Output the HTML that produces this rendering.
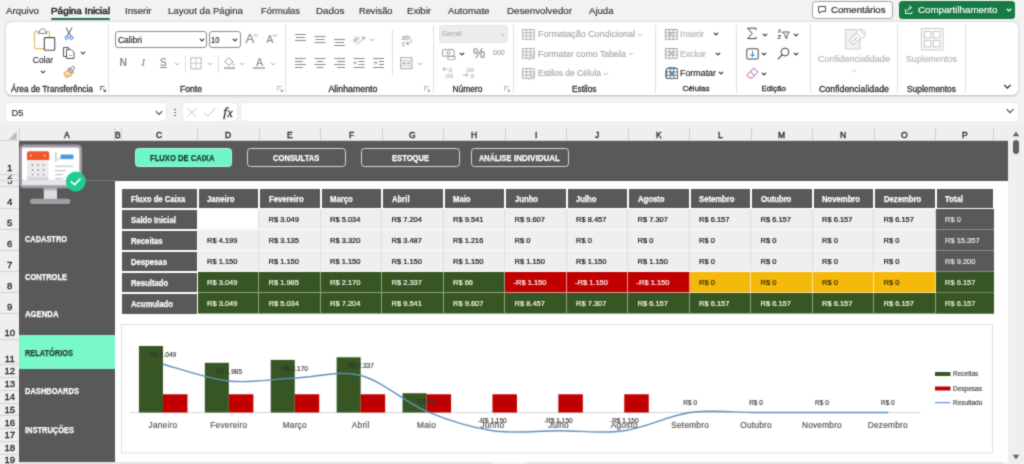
<!DOCTYPE html>
<html lang="pt-BR"><head><meta charset="utf-8"><title>Fluxo de Caixa</title>
<style>
html,body{margin:0;padding:0}
body{width:1024px;height:464px;overflow:hidden;position:relative;background:#f2f2f2;font-family:"Liberation Sans",sans-serif}
.b{position:absolute;box-sizing:border-box;display:block}
.t{position:absolute;white-space:pre;display:block;-webkit-text-stroke:0.16px currentColor}
svg text{font-family:"Liberation Sans",sans-serif}
#app{position:absolute;left:0;top:0;width:1024px;height:464px;overflow:hidden;background:#f2f2f2;filter:url(#soft)}
</style></head><body><svg width="0" height="0" style="position:absolute"><defs><filter id="soft" x="0" y="0" width="100%" height="100%" color-interpolation-filters="sRGB"><feConvolveMatrix order="3" kernelMatrix="1 2 1 2 12 2 1 2 1" edgeMode="duplicate" preserveAlpha="true"/></filter></defs></svg><div id="app">
<span class="t" style="left:6.00px;top:3.80px;font-size:9.20px;line-height:14px;color:#363636;transform:scaleX(1.0582);transform-origin:0 50%;">Arquivo</span>
<span class="t" style="left:124.50px;top:3.80px;font-size:9.01px;line-height:14px;color:#363636;transform:scaleX(1.0582);transform-origin:0 50%;">Inserir</span>
<span class="t" style="left:168.00px;top:3.80px;font-size:9.10px;line-height:14px;color:#363636;transform:scaleX(1.0582);transform-origin:0 50%;">Layout da Página</span>
<span class="t" style="left:260.50px;top:3.80px;font-size:8.84px;line-height:14px;color:#363636;transform:scaleX(1.0582);transform-origin:0 50%;">Fórmulas</span>
<span class="t" style="left:315.50px;top:3.80px;font-size:9.32px;line-height:14px;color:#363636;transform:scaleX(1.0582);transform-origin:0 50%;">Dados</span>
<span class="t" style="left:358.50px;top:3.80px;font-size:8.76px;line-height:14px;color:#363636;transform:scaleX(1.0582);transform-origin:0 50%;">Revisão</span>
<span class="t" style="left:407.00px;top:3.80px;font-size:9.07px;line-height:14px;color:#363636;transform:scaleX(1.0582);transform-origin:0 50%;">Exibir</span>
<span class="t" style="left:447.50px;top:3.80px;font-size:9.16px;line-height:14px;color:#363636;transform:scaleX(1.0582);transform-origin:0 50%;">Automate</span>
<span class="t" style="left:506.50px;top:3.80px;font-size:9.21px;line-height:14px;color:#363636;transform:scaleX(1.0582);transform-origin:0 50%;">Desenvolvedor</span>
<span class="t" style="left:588.50px;top:3.80px;font-size:9.05px;line-height:14px;color:#363636;transform:scaleX(1.0582);transform-origin:0 50%;">Ajuda</span>
<span class="t" style="left:50.50px;top:3.80px;font-size:9.30px;line-height:14px;color:#262626;transform:scaleX(1.0665);transform-origin:0 50%;-webkit-text-stroke:0.5px currentColor;">Página Inicial</span>
<div class="b " style="left:50.5px;top:17.5px;width:59.0px;height:2.0px;background:#217346;border-radius:1px;"></div>
<div class="b " style="left:812px;top:1px;width:80.5px;height:18px;background:#fff;border:1px solid #a3a3a3;border-radius:3.5px;"></div>
<svg class="b" style="left:817px;top:5.4px;" width="10" height="10" viewBox="0 0 10 10"><path d="M1.5 1.5 H8.5 V6.5 H4.2 L2.6 8.3 V6.5 H1.5 Z" fill="none" stroke="#333" stroke-width="0.9" stroke-linejoin="round"/></svg>
<span class="t" style="left:830.50px;top:3.20px;font-size:9.08px;line-height:14px;color:#222;transform:scaleX(1.0582);transform-origin:0 50%;">Comentários</span>
<div class="b " style="left:898.5px;top:1px;width:116.5px;height:18px;background:#177b43;border-radius:3.5px;"></div>
<svg class="b" style="left:904px;top:4.4px;" width="11" height="11" viewBox="0 0 11 11"><path d="M1.5 5 V9.5 H8 V7.5" fill="none" stroke="#fff" stroke-width="0.9"/><path d="M3.5 7 C3.5 4.8 5 3.6 7 3.6 M5.6 1.8 L7.4 3.6 L5.6 5.4" fill="none" stroke="#fff" stroke-width="0.9" stroke-linecap="round" stroke-linejoin="round"/></svg>
<span class="t" style="left:917.50px;top:3.20px;font-size:9.20px;line-height:14px;color:#fff;transform:scaleX(1.0582);transform-origin:0 50%;">Compartilhamento</span>
<svg class="b" style="left:1004.5px;top:6.4px;" width="8" height="8" viewBox="0 0 8 8"><path d="M2 3.0 L4 5.0 L6 3.0" fill="none" stroke="#fff" stroke-width="1.1" stroke-linecap="round" stroke-linejoin="round"/></svg>
<div class="b " style="left:6px;top:22px;width:1011.5px;height:73.3px;background:#fff;border-radius:6px;box-shadow:0 0.8px 2.5px rgba(0,0,0,.25);"></div>
<div class="b " style="left:108.0px;top:25px;width:1.0px;height:67.5px;background:#e1e1e1;"></div>
<div class="b " style="left:285.0px;top:25px;width:1.0px;height:67.5px;background:#e1e1e1;"></div>
<div class="b " style="left:432.5px;top:25px;width:1.0px;height:67.5px;background:#e1e1e1;"></div>
<div class="b " style="left:512.5px;top:25px;width:1.0px;height:67.5px;background:#e1e1e1;"></div>
<div class="b " style="left:655.0px;top:25px;width:1.0px;height:67.5px;background:#e1e1e1;"></div>
<div class="b " style="left:736.0px;top:25px;width:1.0px;height:67.5px;background:#e1e1e1;"></div>
<div class="b " style="left:809.5px;top:25px;width:1.0px;height:67.5px;background:#e1e1e1;"></div>
<div class="b " style="left:897.0px;top:25px;width:1.0px;height:67.5px;background:#e1e1e1;"></div>
<div class="b " style="left:965.0px;top:25px;width:1.0px;height:67.5px;background:#e1e1e1;"></div>
<div class="b " style="left:392px;top:30px;width:1px;height:46px;background:#e1e1e1;"></div>
<div class="b " style="left:184.5px;top:55px;width:1.0px;height:17.5px;background:#dcdcdc;"></div>
<div class="b " style="left:217.5px;top:55px;width:1.0px;height:17.5px;background:#dcdcdc;"></div>
<span class="t" style="left:11.00px;top:82.00px;font-size:8.33px;line-height:14px;color:#303030;-webkit-text-stroke:0.3px currentColor;">Área de Transferência</span>
<span class="t" style="left:180.00px;top:82.00px;font-size:8.60px;line-height:14px;color:#303030;-webkit-text-stroke:0.3px currentColor;">Fonte</span>
<span class="t" style="left:328.50px;top:82.00px;font-size:8.81px;line-height:14px;color:#303030;-webkit-text-stroke:0.3px currentColor;">Alinhamento</span>
<span class="t" style="left:452.50px;top:82.00px;font-size:8.43px;line-height:14px;color:#303030;-webkit-text-stroke:0.3px currentColor;">Número</span>
<span class="t" style="left:572.00px;top:82.00px;font-size:8.32px;line-height:14px;color:#303030;-webkit-text-stroke:0.3px currentColor;">Estilos</span>
<span class="t" style="left:682.50px;top:82.00px;font-size:8.10px;line-height:14px;color:#303030;-webkit-text-stroke:0.3px currentColor;">Células</span>
<span class="t" style="left:761.50px;top:82.00px;font-size:8.01px;line-height:14px;color:#303030;-webkit-text-stroke:0.3px currentColor;">Edição</span>
<span class="t" style="left:819.00px;top:82.00px;font-size:8.80px;line-height:14px;color:#303030;-webkit-text-stroke:0.3px currentColor;">Confidencialidade</span>
<span class="t" style="left:907.00px;top:82.00px;font-size:8.39px;line-height:14px;color:#303030;-webkit-text-stroke:0.3px currentColor;">Suplementos</span>
<svg class="b" style="left:99.5px;top:86px;" width="7" height="7" viewBox="0 0 7 7"><path d="M0.5 4.6 V0.5 H4.6" fill="none" stroke="#5a5a5a" stroke-width="0.9"/><path d="M2.4 2.4 L5.4 5.4" stroke="#5a5a5a" stroke-width="0.9"/><path d="M6 3 V6 H3 Z" fill="#5a5a5a"/></svg>
<svg class="b" style="left:277px;top:86px;" width="7" height="7" viewBox="0 0 7 7"><path d="M0.5 4.6 V0.5 H4.6" fill="none" stroke="#a9a9a9" stroke-width="0.9"/><path d="M2.4 2.4 L5.4 5.4" stroke="#a9a9a9" stroke-width="0.9"/><path d="M6 3 V6 H3 Z" fill="#a9a9a9"/></svg>
<svg class="b" style="left:423.5px;top:86px;" width="7" height="7" viewBox="0 0 7 7"><path d="M0.5 4.6 V0.5 H4.6" fill="none" stroke="#a9a9a9" stroke-width="0.9"/><path d="M2.4 2.4 L5.4 5.4" stroke="#a9a9a9" stroke-width="0.9"/><path d="M6 3 V6 H3 Z" fill="#a9a9a9"/></svg>
<svg class="b" style="left:503.5px;top:86px;" width="7" height="7" viewBox="0 0 7 7"><path d="M0.5 4.6 V0.5 H4.6" fill="none" stroke="#a9a9a9" stroke-width="0.9"/><path d="M2.4 2.4 L5.4 5.4" stroke="#a9a9a9" stroke-width="0.9"/><path d="M6 3 V6 H3 Z" fill="#a9a9a9"/></svg>
<svg class="b" style="left:1003px;top:83px;" width="9" height="7" viewBox="0 0 9 7"><path d="M1.2 2 L4.4 5 L7.6 2" fill="none" stroke="#3a3a3a" stroke-width="1.3"/></svg>
<svg class="b" style="left:33px;top:27px;" width="24" height="25" viewBox="0 0 24 25"><rect x="1.5" y="4.6" width="15" height="17" rx="1" fill="#fff" stroke="#dba33c" stroke-width="1.2" stroke-dasharray="1.3 0.45"/>
<path d="M5.2 6.4 L6.6 4.2 C6.8 1.2 12.4 1.2 12.6 4.2 L14 6.4 Z" fill="#fff" stroke="#6f6f6f" stroke-width="0.9" stroke-linejoin="round"/>
<rect x="11.3" y="10.6" width="10.4" height="12.6" rx="0.8" fill="#fff" stroke="#4f4f4f" stroke-width="1.1"/></svg>
<span class="t" style="left:32.75px;top:52.90px;font-size:8.49px;line-height:14px;color:#333;">Colar</span>
<svg class="b" style="left:38.5px;top:67.5px;" width="8" height="8" viewBox="0 0 8 8"><path d="M2.2 3.1 L4 4.9 L5.8 3.1" fill="none" stroke="#444" stroke-width="1.25" stroke-linecap="round" stroke-linejoin="round"/></svg>
<svg class="b" style="left:63px;top:27px;" width="12" height="14" viewBox="0 0 12 14"><path d="M3.2 1 L7.8 9 M8.8 1 L4.2 9" stroke="#555" stroke-width="1" fill="none" stroke-linecap="round"/>
<circle cx="3.6" cy="10.8" r="1.6" fill="none" stroke="#2f7fd1" stroke-width="1"/><circle cx="8.4" cy="10.8" r="1.6" fill="none" stroke="#2f7fd1" stroke-width="1"/></svg>
<svg class="b" style="left:62px;top:46px;" width="14" height="14" viewBox="0 0 14 14"><path d="M1.5 1.5 H6.5 V3.5 M1.5 1.5 V10.5 H4.5" fill="none" stroke="#555" stroke-width="1"/>
<path d="M4.5 3.5 H9 L12 6.5 V12.5 H4.5 Z" fill="#fff" stroke="#555" stroke-width="1" stroke-linejoin="round"/><path d="M7 9.5 H10" stroke="#888" stroke-width="0.8"/></svg>
<svg class="b" style="left:78.5px;top:49px;" width="8" height="8" viewBox="0 0 8 8"><path d="M2.2 3.1 L4 4.9 L5.8 3.1" fill="none" stroke="#444" stroke-width="1.25" stroke-linecap="round" stroke-linejoin="round"/></svg>
<svg class="b" style="left:63px;top:66px;" width="13" height="13" viewBox="0 0 13 13"><g transform="rotate(38 8.6 3.6)"><rect x="7.2" y="0.2" width="2.8" height="4.2" rx="0.6" fill="#fff" stroke="#555" stroke-width="0.8"/><rect x="5.6" y="4.2" width="6" height="1.8" fill="#fff" stroke="#555" stroke-width="0.8"/></g>
<path d="M4.6 4.6 L9 9 L3.2 11.6 L0.8 7.4 Z" fill="#fbe3c2" stroke="#e8922d" stroke-width="1" stroke-linejoin="round"/><path d="M2.4 8.6 L5.8 10.2" stroke="#e8922d" stroke-width="0.8"/></svg>
<div class="b " style="left:115px;top:31px;width:91.5px;height:17px;background:#fff;border:1px solid #8c8c8c;border-radius:3px;"></div>
<span class="t" style="left:118.00px;top:32.50px;font-size:8.47px;line-height:14px;color:#222;">Calibri</span>
<svg class="b" style="left:197.5px;top:36px;" width="8" height="8" viewBox="0 0 8 8"><path d="M2.2 3.1 L4 4.9 L5.8 3.1" fill="none" stroke="#333" stroke-width="1.25" stroke-linecap="round" stroke-linejoin="round"/></svg>
<div class="b " style="left:208.5px;top:31px;width:32.0px;height:17px;background:#fff;border:1px solid #8c8c8c;border-radius:3px;"></div>
<span class="t" style="left:211.30px;top:32.60px;font-size:9.20px;line-height:14px;color:#222;transform:scaleX(0.8208);transform-origin:0 50%;">10</span>
<svg class="b" style="left:231px;top:36px;" width="8" height="8" viewBox="0 0 8 8"><path d="M2.2 3.1 L4 4.9 L5.8 3.1" fill="none" stroke="#333" stroke-width="1.25" stroke-linecap="round" stroke-linejoin="round"/></svg>
<span class="t" style="left:245.60px;top:31.50px;font-size:13.20px;line-height:14px;color:#8a8a8a;">A</span>
<svg class="b" style="left:252.6px;top:33px;" width="6" height="5" viewBox="0 0 6 5"><path d="M0.8 3.6 L2.8 1.4 L4.8 3.6" fill="none" stroke="#8a8a8a" stroke-width="0.8"/></svg>
<span class="t" style="left:266.40px;top:32.60px;font-size:10.20px;line-height:14px;color:#8a8a8a;">A</span>
<svg class="b" style="left:272px;top:33px;" width="6" height="5" viewBox="0 0 6 5"><path d="M0.8 1.4 L2.8 3.6 L4.8 1.4" fill="none" stroke="#8a8a8a" stroke-width="0.8"/></svg>
<span class="t" style="left:119.60px;top:55.90px;font-size:10.40px;line-height:14px;color:#8a8a8a;font-weight:700;-webkit-text-stroke:0;">N</span>
<span class="t" style="left:141.50px;top:56.00px;font-size:10.50px;line-height:14px;color:#8a8a8a;font-style:italic;font-family:'Liberation Serif',serif;">I</span>
<span class="t" style="left:160.00px;top:56.00px;font-size:10.00px;line-height:14px;color:#8a8a8a;text-decoration:underline;">S</span>
<svg class="b" style="left:172.5px;top:59.5px;" width="8" height="8" viewBox="0 0 8 8"><path d="M2.2 3.1 L4 4.9 L5.8 3.1" fill="none" stroke="#aaa" stroke-width="1.0" stroke-linecap="round" stroke-linejoin="round"/></svg>
<svg class="b" style="left:189.5px;top:57px;" width="12" height="13" viewBox="0 0 12 13"><rect x="0.8" y="0.8" width="10.4" height="11" fill="none" stroke="#b5b5b5" stroke-width="1"/><path d="M6 0.8 V11.8 M0.8 6.3 H11.2" stroke="#c8c8c8" stroke-width="1"/></svg>
<svg class="b" style="left:205.5px;top:59.5px;" width="8" height="8" viewBox="0 0 8 8"><path d="M2.2 3.1 L4 4.9 L5.8 3.1" fill="none" stroke="#aaa" stroke-width="1.0" stroke-linecap="round" stroke-linejoin="round"/></svg>
<svg class="b" style="left:223px;top:56px;" width="13" height="14" viewBox="0 0 13 14"><path d="M5.5 1.5 L10 6 L5.8 9.6 L2 5.6 Z" fill="none" stroke="#8a8a8a" stroke-width="0.9" stroke-linejoin="round"/><path d="M10.6 7.2 C11.4 8.4 11.6 9.2 10.8 9.6 C10 9.2 10 8.4 10.6 7.2 Z" fill="#8a8a8a"/>
<rect x="1" y="11" width="11" height="2.2" fill="#b9b9b9"/></svg>
<svg class="b" style="left:238px;top:59.5px;" width="8" height="8" viewBox="0 0 8 8"><path d="M2.2 3.1 L4 4.9 L5.8 3.1" fill="none" stroke="#aaa" stroke-width="1.0" stroke-linecap="round" stroke-linejoin="round"/></svg>
<span class="t" style="left:255.90px;top:54.90px;font-size:10.80px;line-height:14px;color:#8f8f8f;">A</span>
<div class="b " style="left:253.3px;top:66.8px;width:12.0px;height:2.700000000000003px;background:#b9b9b9;"></div>
<svg class="b" style="left:269px;top:59.5px;" width="8" height="8" viewBox="0 0 8 8"><path d="M2.2 3.1 L4 4.9 L5.8 3.1" fill="none" stroke="#aaa" stroke-width="1.0" stroke-linecap="round" stroke-linejoin="round"/></svg>
<svg class="b" style="left:0px;top:0px;pointer-events:none;" width="520" height="100" viewBox="0 0 520 100"><rect x="295.00" y="34.00" width="11" height="1" fill="#8c8c8c"/><rect x="296.00" y="37.00" width="9" height="1" fill="#8c8c8c"/><rect x="295.00" y="40.00" width="11" height="1" fill="#8c8c8c"/><rect x="314.50" y="36.00" width="11" height="1" fill="#8c8c8c"/><rect x="315.50" y="39.00" width="9" height="1" fill="#8c8c8c"/><rect x="314.50" y="42.00" width="11" height="1" fill="#8c8c8c"/><rect x="334.00" y="39.00" width="11" height="1" fill="#8c8c8c"/><rect x="335.00" y="42.00" width="9" height="1" fill="#8c8c8c"/><rect x="334.00" y="45.00" width="11" height="1" fill="#8c8c8c"/><rect x="295.00" y="58.00" width="11" height="1" fill="#8c8c8c"/><rect x="295.00" y="61.00" width="8" height="1" fill="#8c8c8c"/><rect x="295.00" y="64.00" width="11" height="1" fill="#8c8c8c"/><rect x="295.00" y="67.00" width="8" height="1" fill="#8c8c8c"/><rect x="314.50" y="58.00" width="11" height="1" fill="#8c8c8c"/><rect x="316.50" y="61.00" width="7" height="1" fill="#8c8c8c"/><rect x="314.50" y="64.00" width="11" height="1" fill="#8c8c8c"/><rect x="316.50" y="67.00" width="7" height="1" fill="#8c8c8c"/><rect x="334.00" y="58.00" width="11" height="1" fill="#8c8c8c"/><rect x="337.00" y="61.00" width="8" height="1" fill="#8c8c8c"/><rect x="334.00" y="64.00" width="11" height="1" fill="#8c8c8c"/><rect x="337.00" y="67.00" width="8" height="1" fill="#8c8c8c"/><rect x="358.50" y="58.00" width="6" height="1" fill="#8c8c8c"/><rect x="358.50" y="61.00" width="6" height="1" fill="#8c8c8c"/><rect x="358.50" y="64.00" width="6" height="1" fill="#8c8c8c"/><rect x="358.50" y="67.00" width="6" height="1" fill="#8c8c8c"/><rect x="353.50" y="58.00" width="11" height="1" fill="#8c8c8c"/><rect x="353.50" y="67.00" width="11" height="1" fill="#8c8c8c"/><path d="M357 62.8 L354 62.8 M355.4 61.2 L353.8 62.8 L355.4 64.4" fill="none" stroke="#8c8c8c" stroke-width="0.8"/><rect x="379.00" y="61.00" width="5" height="1" fill="#8c8c8c"/><rect x="379.00" y="64.00" width="5" height="1" fill="#8c8c8c"/><rect x="373.00" y="58.00" width="11" height="1" fill="#8c8c8c"/><rect x="373.00" y="67.00" width="11" height="1" fill="#8c8c8c"/><path d="M373.4 62.8 L377 62.8 M375.4 61.2 L377 62.8 L375.4 64.4" fill="none" stroke="#8c8c8c" stroke-width="0.8"/></svg>
<svg class="b" style="left:353px;top:33px;" width="13" height="13" viewBox="0 0 13 13"><text x="0.5" y="8" font-size="6.5" fill="#8c8c8c" transform="rotate(-40 4 8)">ab</text><path d="M4 11.5 L11 4.5 M8.5 4.2 H11.3 V7" fill="none" stroke="#8c8c8c" stroke-width="0.8"/></svg>
<svg class="b" style="left:367.5px;top:36px;" width="8" height="8" viewBox="0 0 8 8"><path d="M2.2 3.1 L4 4.9 L5.8 3.1" fill="none" stroke="#aaa" stroke-width="1.0" stroke-linecap="round" stroke-linejoin="round"/></svg>
<svg class="b" style="left:401px;top:32.5px;" width="14" height="14" viewBox="0 0 14 14"><text x="0.6" y="6.8" font-size="8" fill="#8c8c8c">ab</text><text x="0.8" y="12.6" font-size="7" fill="#8c8c8c">c</text><path d="M5.4 10.4 C9 10.6 10.6 9.6 11 6.6 M7.6 8.4 L5.2 10.4 L7.8 12.2" fill="none" stroke="#8c8c8c" stroke-width="0.8"/></svg>
<svg class="b" style="left:400px;top:57px;" width="13" height="13" viewBox="0 0 13 13"><rect x="0.7" y="0.7" width="11.2" height="11" fill="none" stroke="#9a9a9a" stroke-width="0.9"/><path d="M0.7 3.6 H11.9 M0.7 8.8 H11.9" stroke="#b5b5b5" stroke-width="0.8"/><path d="M2.6 6.2 H10 M4 4.9 L2.6 6.2 L4 7.5 M8.6 4.9 L10 6.2 L8.6 7.5" fill="none" stroke="#8c8c8c" stroke-width="0.8"/></svg>
<svg class="b" style="left:416px;top:59.5px;" width="8" height="8" viewBox="0 0 8 8"><path d="M2.2 3.1 L4 4.9 L5.8 3.1" fill="none" stroke="#aaa" stroke-width="1.0" stroke-linecap="round" stroke-linejoin="round"/></svg>
<div class="b " style="left:439px;top:25px;width:68.75px;height:17.5px;background:#ececec;border-radius:4px;border:1px dotted #e0e0e0;"></div>
<span class="t" style="left:441.80px;top:26.90px;font-size:8.10px;line-height:14px;color:#adadad;">Geral</span>
<svg class="b" style="left:498.5px;top:30.5px;" width="8" height="8" viewBox="0 0 8 8"><path d="M2.4 3.2 L4 4.8 L5.6 3.2" fill="none" stroke="#b5b5b5" stroke-width="1.0" stroke-linecap="round" stroke-linejoin="round"/></svg>
<svg class="b" style="left:441.5px;top:48.5px;" width="14" height="11" viewBox="0 0 14 11"><rect x="0.6" y="0.6" width="11.5" height="6.5" rx="0.8" fill="none" stroke="#8c8c8c" stroke-width="0.9"/><circle cx="6.3" cy="3.8" r="1.6" fill="none" stroke="#8c8c8c" stroke-width="0.8"/><path d="M6.5 8.8 H12.5 M6.5 10.4 H12.5" stroke="#8c8c8c" stroke-width="0.8"/><rect x="6" y="7.6" width="7" height="3.2" fill="#fff" stroke="#8c8c8c" stroke-width="0.7"/></svg>
<svg class="b" style="left:458px;top:49.5px;" width="8" height="8" viewBox="0 0 8 8"><path d="M2.2 3.1 L4 4.9 L5.8 3.1" fill="none" stroke="#333" stroke-width="1.2" stroke-linecap="round" stroke-linejoin="round"/></svg>
<span class="t" style="left:472.60px;top:46.30px;font-size:14.30px;line-height:14px;color:#8c8c8c;transform:scaleX(0.9594);transform-origin:0 50%;">%</span>
<span class="t" style="left:492.50px;top:45.90px;font-size:7.40px;line-height:14px;color:#a5a5a5;transform:scaleX(0.9557);transform-origin:0 50%;">000</span>
<svg class="b" style="left:442px;top:66px;" width="13" height="13" viewBox="0 0 13 13"><text x="5.4" y="5.6" font-size="6.2" fill="#9a9a9a">,0</text><text x="2.6" y="11.6" font-size="6.2" fill="#9a9a9a">,00</text><path d="M5.4 3 H0.8 M2.6 1.2 L0.8 3 L2.6 4.8" fill="none" stroke="#9a9a9a" stroke-width="0.8"/></svg>
<svg class="b" style="left:461.5px;top:66px;" width="13" height="13" viewBox="0 0 13 13"><text x="3.4" y="5.6" font-size="6.2" fill="#9a9a9a">,00</text><text x="7" y="11.6" font-size="6.2" fill="#9a9a9a">,0</text><path d="M0.8 9 H6 M4.2 7.2 L6 9 L4.2 10.8" fill="none" stroke="#9a9a9a" stroke-width="0.8"/></svg>
<svg class="b" style="left:522px;top:28.5px;" width="13" height="11" viewBox="0 0 13 11"><rect x="0.6" y="0.6" width="11.6" height="9.6" fill="none" stroke="#a6a6a6" stroke-width="0.9"/><path d="M0.6 3.8 H12.2 M0.6 7 H12.2 M4.4 0.6 V10.2 M8.3 0.6 V10.2" stroke="#a6a6a6" stroke-width="0.8"/></svg>
<svg class="b" style="left:522px;top:48px;" width="13" height="11" viewBox="0 0 13 11"><rect x="0.6" y="0.6" width="11.6" height="9.6" fill="none" stroke="#a6a6a6" stroke-width="0.9"/><path d="M0.6 3.8 H12.2 M0.6 7 H12.2 M4.4 0.6 V10.2 M8.3 0.6 V10.2" stroke="#a6a6a6" stroke-width="0.8"/></svg>
<svg class="b" style="left:522px;top:67.5px;" width="13" height="11" viewBox="0 0 13 11"><rect x="0.6" y="0.6" width="11.6" height="9.6" fill="none" stroke="#a6a6a6" stroke-width="0.9"/><path d="M0.6 3.8 H12.2 M0.6 7 H12.2 M4.4 0.6 V10.2 M8.3 0.6 V10.2" stroke="#a6a6a6" stroke-width="0.8"/></svg>
<svg class="b" style="left:527px;top:52px;" width="9" height="8" viewBox="0 0 9 8"><path d="M1 7 L7 1 L8.2 2.2 L2.4 7.6 Z" fill="#fff" stroke="#a6a6a6" stroke-width="0.8"/></svg>
<svg class="b" style="left:527px;top:71.5px;" width="9" height="8" viewBox="0 0 9 8"><path d="M1 7 L7 1 L8.2 2.2 L2.4 7.6 Z" fill="#fff" stroke="#a6a6a6" stroke-width="0.8"/></svg>
<span class="t" style="left:538.00px;top:27.00px;font-size:8.95px;line-height:14px;color:#a6a6a6;">Formatação Condicional</span>
<svg class="b" style="left:636px;top:30.5px;" width="8" height="8" viewBox="0 0 8 8"><path d="M2.4 3.2 L4 4.8 L5.6 3.2" fill="none" stroke="#b5b5b5" stroke-width="1.0" stroke-linecap="round" stroke-linejoin="round"/></svg>
<span class="t" style="left:538.00px;top:46.50px;font-size:8.81px;line-height:14px;color:#a6a6a6;">Formatar como Tabela</span>
<svg class="b" style="left:627px;top:50px;" width="8" height="8" viewBox="0 0 8 8"><path d="M2.4 3.2 L4 4.8 L5.6 3.2" fill="none" stroke="#b5b5b5" stroke-width="1.0" stroke-linecap="round" stroke-linejoin="round"/></svg>
<span class="t" style="left:538.00px;top:66.00px;font-size:8.46px;line-height:14px;color:#a6a6a6;">Estilos de Célula</span>
<svg class="b" style="left:602px;top:69.5px;" width="8" height="8" viewBox="0 0 8 8"><path d="M2.4 3.2 L4 4.8 L5.6 3.2" fill="none" stroke="#b5b5b5" stroke-width="1.0" stroke-linecap="round" stroke-linejoin="round"/></svg>
<svg class="b" style="left:665px;top:28.5px;" width="13" height="11" viewBox="0 0 13 11"><rect x="0.6" y="0.6" width="11.6" height="9.6" fill="none" stroke="#9a9a9a" stroke-width="0.9"/><path d="M0.6 3.8 H12.2 M0.6 7 H12.2 M4.4 0.6 V10.2 M8.3 0.6 V10.2" stroke="#9a9a9a" stroke-width="0.8"/></svg>
<svg class="b" style="left:665px;top:48px;" width="13" height="11" viewBox="0 0 13 11"><rect x="0.6" y="0.6" width="11.6" height="9.6" fill="none" stroke="#9a9a9a" stroke-width="0.9"/><path d="M0.6 3.8 H12.2 M0.6 7 H12.2 M4.4 0.6 V10.2 M8.3 0.6 V10.2" stroke="#9a9a9a" stroke-width="0.8"/></svg>
<svg class="b" style="left:664.5px;top:66.5px;" width="14" height="13" viewBox="0 0 14 13"><rect x="1.6" y="1.6" width="10.8" height="10" fill="none" stroke="#555" stroke-width="0.9"/><path d="M1.6 4.9 H12.4 M1.6 8.3 H12.4 M5.2 1.6 V11.6 M8.8 1.6 V11.6" stroke="#555" stroke-width="0.8"/><rect x="5.2" y="4.9" width="3.6" height="3.4" fill="#3a96dd"/><path d="M3 0.6 H11 M0.6 3 V10.5" stroke="#3a96dd" stroke-width="1"/></svg>
<svg class="b" style="left:668px;top:31px;" width="8" height="6" viewBox="0 0 8 6"><path d="M4.5 2.8 H1 M2.4 1.2 L1 2.8 L2.4 4.4" fill="none" stroke="#9a9a9a" stroke-width="0.8"/></svg>
<svg class="b" style="left:668px;top:50px;" width="8" height="7" viewBox="0 0 8 7"><path d="M1.5 1.5 L5.5 5.5 M5.5 1.5 L1.5 5.5" fill="none" stroke="#9a9a9a" stroke-width="0.9"/></svg>
<span class="t" style="left:680.00px;top:27.00px;font-size:8.64px;line-height:14px;color:#b2b2b2;">Inserir</span>
<svg class="b" style="left:711.5px;top:30px;" width="8" height="8" viewBox="0 0 8 8"><path d="M2.2 3.1 L4 4.9 L5.8 3.1" fill="none" stroke="#333" stroke-width="1.2" stroke-linecap="round" stroke-linejoin="round"/></svg>
<span class="t" style="left:680.00px;top:46.50px;font-size:8.66px;line-height:14px;color:#b2b2b2;">Excluir</span>
<svg class="b" style="left:713.75px;top:49.5px;" width="8" height="8" viewBox="0 0 8 8"><path d="M2.2 3.1 L4 4.9 L5.8 3.1" fill="none" stroke="#333" stroke-width="1.2" stroke-linecap="round" stroke-linejoin="round"/></svg>
<span class="t" style="left:680.00px;top:66.00px;font-size:8.88px;line-height:14px;color:#222;">Formatar</span>
<svg class="b" style="left:716.9px;top:69px;" width="8" height="8" viewBox="0 0 8 8"><path d="M2.2 3.1 L4 4.9 L5.8 3.1" fill="none" stroke="#333" stroke-width="1.2" stroke-linecap="round" stroke-linejoin="round"/></svg>
<svg class="b" style="left:746px;top:27px;" width="12" height="13" viewBox="0 0 12 13"><path d="M10 3 V1.2 H1.6 L6.2 6.4 L1.6 11.6 H10 V9.8" fill="none" stroke="#444" stroke-width="1" stroke-linejoin="round"/></svg>
<svg class="b" style="left:761px;top:30.5px;" width="8" height="8" viewBox="0 0 8 8"><path d="M2.2 3.1 L4 4.9 L5.8 3.1" fill="none" stroke="#333" stroke-width="1.2" stroke-linecap="round" stroke-linejoin="round"/></svg>
<svg class="b" style="left:776px;top:27px;" width="15" height="14" viewBox="0 0 15 14"><text x="1.5" y="5.6" font-size="6" font-weight="700" fill="#2f7fd1">A</text><text x="1.5" y="12.3" font-size="6" font-weight="700" fill="#444">Z</text><path d="M6.8 5 H13.4 L11 8.2 V11.6 L9.2 10.4 V8.2 Z" fill="none" stroke="#444" stroke-width="0.9" stroke-linejoin="round"/></svg>
<svg class="b" style="left:792px;top:30.5px;" width="8" height="8" viewBox="0 0 8 8"><path d="M2.2 3.1 L4 4.9 L5.8 3.1" fill="none" stroke="#333" stroke-width="1.2" stroke-linecap="round" stroke-linejoin="round"/></svg>
<svg class="b" style="left:745.5px;top:48px;" width="13" height="12" viewBox="0 0 13 12"><rect x="0.8" y="0.8" width="11.4" height="10.2" rx="0.8" fill="none" stroke="#444" stroke-width="1"/><path d="M6.5 2.8 V8.4 M4.2 6.2 L6.5 8.6 L8.8 6.2" fill="none" stroke="#2f7fd1" stroke-width="1"/></svg>
<svg class="b" style="left:760px;top:50px;" width="8" height="8" viewBox="0 0 8 8"><path d="M2.2 3.1 L4 4.9 L5.8 3.1" fill="none" stroke="#333" stroke-width="1.2" stroke-linecap="round" stroke-linejoin="round"/></svg>
<svg class="b" style="left:777px;top:47px;" width="14" height="13" viewBox="0 0 14 13"><circle cx="8" cy="5" r="3.9" fill="none" stroke="#444" stroke-width="1"/><path d="M5.2 7.8 L1.2 11.8" stroke="#444" stroke-width="1.1" stroke-linecap="round"/></svg>
<svg class="b" style="left:792px;top:50px;" width="8" height="8" viewBox="0 0 8 8"><path d="M2.2 3.1 L4 4.9 L5.8 3.1" fill="none" stroke="#333" stroke-width="1.2" stroke-linecap="round" stroke-linejoin="round"/></svg>
<svg class="b" style="left:745.5px;top:67px;" width="13" height="12" viewBox="0 0 13 12"><path d="M7.6 1 L12 5 L6.2 11 L3.6 11 L1 8.2 Z" fill="#fff" stroke="#c2419a" stroke-width="0.9" stroke-linejoin="round"/><path d="M4.4 4.6 L8.6 8.6" stroke="#8b3fae" stroke-width="0.9"/></svg>
<svg class="b" style="left:760px;top:69.5px;" width="8" height="8" viewBox="0 0 8 8"><path d="M2.2 3.1 L4 4.9 L5.8 3.1" fill="none" stroke="#333" stroke-width="1.2" stroke-linecap="round" stroke-linejoin="round"/></svg>
<svg class="b" style="left:844px;top:26px;" width="24" height="25" viewBox="0 0 24 25"><path d="M1.5 3.5 H13 L16 6.5 V23 H1.5 Z" fill="#f1f1f1" stroke="#cfcfcf" stroke-width="1"/><g transform="rotate(-42 13 11)"><rect x="5" y="8" width="17" height="6.4" rx="1.4" fill="#fff" stroke="#c6c6c6" stroke-width="1"/><rect x="15.5" y="6.6" width="4.4" height="9.2" rx="1" fill="#fff" stroke="#c6c6c6" stroke-width="0.9"/><path d="M7 11.2 H13" stroke="#c6c6c6" stroke-width="1.4"/></g></svg>
<span class="t" style="left:818.00px;top:51.90px;font-size:9.06px;line-height:14px;color:#b4b4b4;">Confidencialidade</span>
<svg class="b" style="left:849.5px;top:67px;" width="8" height="8" viewBox="0 0 8 8"><path d="M2.2 3.1 L4 4.9 L5.8 3.1" fill="none" stroke="#c4c4c4" stroke-width="1.0" stroke-linecap="round" stroke-linejoin="round"/></svg>
<svg class="b" style="left:920.5px;top:27.5px;" width="23" height="23" viewBox="0 0 23 23"><rect x="0.5" y="0.5" width="21.5" height="21.5" fill="#fafafa" stroke="#c9c9c9" stroke-width="1"/><rect x="3.4" y="3.4" width="6.6" height="6.6" fill="#fff" stroke="#c0c0c0" stroke-width="0.9"/><rect x="12.4" y="3.4" width="6.6" height="6.6" fill="#fff" stroke="#c0c0c0" stroke-width="0.9"/><rect x="3.4" y="12.4" width="6.6" height="6.6" fill="#fff" stroke="#c0c0c0" stroke-width="0.9"/><rect x="12.4" y="12.4" width="6.6" height="6.6" fill="#fff" stroke="#c0c0c0" stroke-width="0.9"/></svg>
<span class="t" style="left:906.00px;top:51.90px;font-size:8.74px;line-height:14px;color:#b4b4b4;">Suplementos</span>
<div class="b " style="left:6px;top:103.3px;width:160px;height:17.700000000000003px;background:#fff;border-radius:3.5px;box-shadow:0 0 0 0.5px #e6e6e6;"></div>
<span class="t" style="left:11.50px;top:105.60px;font-size:9.30px;line-height:14px;color:#333;">D5</span>
<svg class="b" style="left:154px;top:109.2px;" width="10" height="8" viewBox="0 0 10 8"><path d="M1.8 2.2 L5 5.4 L8.2 2.2" fill="none" stroke="#4a4a4a" stroke-width="1.1"/></svg>
<div class="b " style="left:174.2px;top:108.6px;width:1.6000000000000227px;height:1.5999999999999943px;background:#555;border-radius:1px;"></div>
<div class="b " style="left:174.2px;top:111.6px;width:1.6000000000000227px;height:1.5999999999999943px;background:#555;border-radius:1px;"></div>
<div class="b " style="left:174.2px;top:114.6px;width:1.6000000000000227px;height:1.5999999999999943px;background:#555;border-radius:1px;"></div>
<div class="b " style="left:183px;top:103.3px;width:54px;height:17.700000000000003px;background:#fff;border-radius:3.5px;box-shadow:0 0 0 0.5px #e6e6e6;"></div>
<svg class="b" style="left:186px;top:107px;" width="12" height="11" viewBox="0 0 12 11"><path d="M1.4 1.2 L10.4 9.6 M10.4 1.2 L1.4 9.6" stroke="#c6c6c6" stroke-width="1" fill="none"/></svg>
<svg class="b" style="left:203px;top:107px;" width="14" height="11" viewBox="0 0 14 11"><path d="M1 6 L4.6 9.4 L12.4 1.2" stroke="#c6c6c6" stroke-width="1" fill="none"/></svg>
<span class="t" style="left:0;top:0">
<span class="t" style="left:223.20px;top:105.00px;font-size:13.50px;line-height:14px;color:#3a3a3a;font-style:italic;font-family:'Liberation Serif',serif;-webkit-text-stroke:0.35px currentColor;">f</span>
<span class="t" style="left:227.60px;top:106.40px;font-size:11.50px;line-height:14px;color:#3a3a3a;font-style:italic;font-family:'Liberation Serif',serif;-webkit-text-stroke:0.35px currentColor;">x</span>
</span>
<div class="b " style="left:241px;top:103.3px;width:776.5px;height:17.700000000000003px;background:#fff;border-radius:3.5px;box-shadow:0 0 0 0.5px #e6e6e6;"></div>
<svg class="b" style="left:1005px;top:107.2px;" width="10" height="8" viewBox="0 0 10 8"><path d="M1.6 2.2 L5 5.6 L8.4 2.2" fill="none" stroke="#4a4a4a" stroke-width="1.15"/></svg>
<div class="b " style="left:0px;top:124px;width:1024px;height:17px;background:#efefef;"></div>
<div class="b " style="left:19px;top:141px;width:988.5px;height:321px;background:#fff;"></div>
<div class="b " style="left:0px;top:140px;width:1007.5px;height:1px;background:#d4d4d4;"></div>
<div class="b " style="left:18.5px;top:128px;width:1.0px;height:13px;background:#cfcfcf;"></div>
<span class="t" style="left:64.15px;top:127.60px;font-size:9.70px;line-height:14px;color:#222;transform:scaleX(0.8800);transform-origin:0 50%;-webkit-text-stroke:0.35px currentColor;">A</span>
<div class="b " style="left:114.0px;top:128px;width:1.0px;height:13px;background:#cfcfcf;"></div>
<span class="t" style="left:114.90px;top:127.60px;font-size:9.70px;line-height:14px;color:#222;transform:scaleX(0.8800);transform-origin:0 50%;-webkit-text-stroke:0.35px currentColor;">B</span>
<div class="b " style="left:120.5px;top:128px;width:1.0px;height:13px;background:#cfcfcf;"></div>
<span class="t" style="left:156.17px;top:127.60px;font-size:9.70px;line-height:14px;color:#222;transform:scaleX(0.8800);transform-origin:0 50%;-webkit-text-stroke:0.35px currentColor;">C</span>
<div class="b " style="left:197.0px;top:128px;width:1.0px;height:13px;background:#cfcfcf;"></div>
<span class="t" style="left:225.17px;top:127.60px;font-size:9.70px;line-height:14px;color:#222;transform:scaleX(0.8800);transform-origin:0 50%;-webkit-text-stroke:0.35px currentColor;">D</span>
<div class="b " style="left:258.5px;top:128px;width:1.0px;height:13px;background:#cfcfcf;"></div>
<span class="t" style="left:286.90px;top:127.60px;font-size:9.70px;line-height:14px;color:#222;transform:scaleX(0.8800);transform-origin:0 50%;-webkit-text-stroke:0.35px currentColor;">E</span>
<div class="b " style="left:320.0px;top:128px;width:1.0px;height:13px;background:#cfcfcf;"></div>
<span class="t" style="left:348.64px;top:127.60px;font-size:9.70px;line-height:14px;color:#222;transform:scaleX(0.8800);transform-origin:0 50%;-webkit-text-stroke:0.35px currentColor;">F</span>
<div class="b " style="left:381.5px;top:128px;width:1.0px;height:13px;background:#cfcfcf;"></div>
<span class="t" style="left:409.43px;top:127.60px;font-size:9.70px;line-height:14px;color:#222;transform:scaleX(0.8800);transform-origin:0 50%;-webkit-text-stroke:0.35px currentColor;">G</span>
<div class="b " style="left:443.0px;top:128px;width:1.0px;height:13px;background:#cfcfcf;"></div>
<span class="t" style="left:471.17px;top:127.60px;font-size:9.70px;line-height:14px;color:#222;transform:scaleX(0.8800);transform-origin:0 50%;-webkit-text-stroke:0.35px currentColor;">H</span>
<div class="b " style="left:504.5px;top:128px;width:1.0px;height:13px;background:#cfcfcf;"></div>
<span class="t" style="left:534.56px;top:127.60px;font-size:9.70px;line-height:14px;color:#222;transform:scaleX(0.8800);transform-origin:0 50%;-webkit-text-stroke:0.35px currentColor;">I</span>
<div class="b " style="left:566.0px;top:128px;width:1.0px;height:13px;background:#cfcfcf;"></div>
<span class="t" style="left:595.12px;top:127.60px;font-size:9.70px;line-height:14px;color:#222;transform:scaleX(0.8800);transform-origin:0 50%;-webkit-text-stroke:0.35px currentColor;">J</span>
<div class="b " style="left:627.5px;top:128px;width:1.0px;height:13px;background:#cfcfcf;"></div>
<span class="t" style="left:655.90px;top:127.60px;font-size:9.70px;line-height:14px;color:#222;transform:scaleX(0.8800);transform-origin:0 50%;-webkit-text-stroke:0.35px currentColor;">K</span>
<div class="b " style="left:689.0px;top:128px;width:1.0px;height:13px;background:#cfcfcf;"></div>
<span class="t" style="left:717.88px;top:127.60px;font-size:9.70px;line-height:14px;color:#222;transform:scaleX(0.8800);transform-origin:0 50%;-webkit-text-stroke:0.35px currentColor;">L</span>
<div class="b " style="left:750.5px;top:128px;width:1.0px;height:13px;background:#cfcfcf;"></div>
<span class="t" style="left:778.19px;top:127.60px;font-size:9.70px;line-height:14px;color:#222;transform:scaleX(0.8800);transform-origin:0 50%;-webkit-text-stroke:0.35px currentColor;">M</span>
<div class="b " style="left:812.0px;top:128px;width:1.0px;height:13px;background:#cfcfcf;"></div>
<span class="t" style="left:840.17px;top:127.60px;font-size:9.70px;line-height:14px;color:#222;transform:scaleX(0.8800);transform-origin:0 50%;-webkit-text-stroke:0.35px currentColor;">N</span>
<div class="b " style="left:873.5px;top:128px;width:1.0px;height:13px;background:#cfcfcf;"></div>
<span class="t" style="left:901.43px;top:127.60px;font-size:9.70px;line-height:14px;color:#222;transform:scaleX(0.8800);transform-origin:0 50%;-webkit-text-stroke:0.35px currentColor;">O</span>
<div class="b " style="left:935.0px;top:128px;width:1.0px;height:13px;background:#cfcfcf;"></div>
<span class="t" style="left:961.65px;top:127.60px;font-size:9.70px;line-height:14px;color:#222;transform:scaleX(0.8800);transform-origin:0 50%;-webkit-text-stroke:0.35px currentColor;">P</span>
<div class="b " style="left:993.0px;top:128px;width:1.0px;height:13px;background:#cfcfcf;"></div>
<svg class="b" style="left:8px;top:130.5px;" width="9" height="9" viewBox="0 0 9 9"><path d="M8.6 0.6 V8.4 H0.8 Z" fill="#b9b9b9"/></svg>
<div class="b " style="left:0px;top:141px;width:19px;height:323px;background:#efefef;"></div>
<div class="b " style="left:18.5px;top:141px;width:1.0px;height:321px;background:#d4d4d4;"></div>
<div class="b " style="left:0px;top:173.7px;width:19px;height:1.0px;background:#d2d2d2;"></div>
<div class="b " style="left:0px;top:180.2px;width:19px;height:1.0px;background:#d2d2d2;"></div>
<div class="b " style="left:0px;top:186.3px;width:19px;height:1.0px;background:#d2d2d2;"></div>
<div class="b " style="left:0px;top:207.5px;width:19px;height:1.0px;background:#d2d2d2;"></div>
<div class="b " style="left:0px;top:228.8px;width:19px;height:1.0px;background:#d2d2d2;"></div>
<div class="b " style="left:0px;top:249.9px;width:19px;height:1.0px;background:#d2d2d2;"></div>
<div class="b " style="left:0px;top:271.0px;width:19px;height:1.0px;background:#d2d2d2;"></div>
<div class="b " style="left:0px;top:292.1px;width:19px;height:1.0px;background:#d2d2d2;"></div>
<div class="b " style="left:0px;top:313.1px;width:19px;height:1.0px;background:#d2d2d2;"></div>
<div class="b " style="left:0px;top:339.0px;width:19px;height:1.0px;background:#d2d2d2;"></div>
<div class="b " style="left:0px;top:364.0px;width:19px;height:1.0px;background:#d2d2d2;"></div>
<div class="b " style="left:0px;top:376.9px;width:19px;height:1.0px;background:#d2d2d2;"></div>
<div class="b " style="left:0px;top:389.7px;width:19px;height:1.0px;background:#d2d2d2;"></div>
<div class="b " style="left:0px;top:402.5px;width:19px;height:1.0px;background:#d2d2d2;"></div>
<div class="b " style="left:0px;top:415.3px;width:19px;height:1.0px;background:#d2d2d2;"></div>
<div class="b " style="left:0px;top:428.1px;width:19px;height:1.0px;background:#d2d2d2;"></div>
<div class="b " style="left:0px;top:440.8px;width:19px;height:1.0px;background:#d2d2d2;"></div>
<div class="b " style="left:0px;top:453.5px;width:19px;height:1.0px;background:#d2d2d2;"></div>
<span class="t" style="left:7.08px;top:161.40px;font-size:9.60px;line-height:14px;color:#222;-webkit-text-stroke:0.3px currentColor;">1</span>
<span class="t" style="left:7.08px;top:194.80px;font-size:9.60px;line-height:14px;color:#222;-webkit-text-stroke:0.3px currentColor;">4</span>
<span class="t" style="left:7.08px;top:216.00px;font-size:9.60px;line-height:14px;color:#222;-webkit-text-stroke:0.3px currentColor;">5</span>
<span class="t" style="left:7.08px;top:236.70px;font-size:9.60px;line-height:14px;color:#222;-webkit-text-stroke:0.3px currentColor;">6</span>
<span class="t" style="left:7.08px;top:257.70px;font-size:9.60px;line-height:14px;color:#222;-webkit-text-stroke:0.3px currentColor;">7</span>
<span class="t" style="left:7.08px;top:278.70px;font-size:9.60px;line-height:14px;color:#222;-webkit-text-stroke:0.3px currentColor;">8</span>
<span class="t" style="left:7.08px;top:300.00px;font-size:9.60px;line-height:14px;color:#222;-webkit-text-stroke:0.3px currentColor;">9</span>
<span class="t" style="left:4.41px;top:326.00px;font-size:9.60px;line-height:14px;color:#222;-webkit-text-stroke:0.3px currentColor;">10</span>
<span class="t" style="left:4.77px;top:351.50px;font-size:9.60px;line-height:14px;color:#222;-webkit-text-stroke:0.3px currentColor;">11</span>
<span class="t" style="left:4.41px;top:364.40px;font-size:9.60px;line-height:14px;color:#222;-webkit-text-stroke:0.3px currentColor;">12</span>
<span class="t" style="left:4.41px;top:377.30px;font-size:9.60px;line-height:14px;color:#222;-webkit-text-stroke:0.3px currentColor;">13</span>
<span class="t" style="left:4.41px;top:390.00px;font-size:9.60px;line-height:14px;color:#222;-webkit-text-stroke:0.3px currentColor;">14</span>
<span class="t" style="left:4.41px;top:402.70px;font-size:9.60px;line-height:14px;color:#222;-webkit-text-stroke:0.3px currentColor;">15</span>
<span class="t" style="left:4.41px;top:415.50px;font-size:9.60px;line-height:14px;color:#222;-webkit-text-stroke:0.3px currentColor;">16</span>
<span class="t" style="left:4.41px;top:428.40px;font-size:9.60px;line-height:14px;color:#222;-webkit-text-stroke:0.3px currentColor;">17</span>
<span class="t" style="left:4.41px;top:441.00px;font-size:9.60px;line-height:14px;color:#222;-webkit-text-stroke:0.3px currentColor;">18</span>
<span class="t" style="left:4.41px;top:453.20px;font-size:9.60px;line-height:14px;color:#222;-webkit-text-stroke:0.3px currentColor;">19</span>
<div class="b" style="left:0;top:174.7px;width:19px;height:5.6px;overflow:hidden"><span class="t" style="left:7.25px;top:-6.2px;font-size:9.5px;line-height:14px;color:#262626">2</span></div>
<div class="b" style="left:0;top:181.2px;width:19px;height:5.2px;overflow:hidden"><span class="t" style="left:7.25px;top:-7px;font-size:9.5px;line-height:14px;color:#262626">3</span></div>
<div class="b " style="left:19px;top:141px;width:988.5px;height:39.69999999999999px;background:#595959;"></div>
<div class="b " style="left:19px;top:141px;width:95.5px;height:321px;background:#595959;"></div>
<div class="b " style="left:84px;top:180.3px;width:30.5px;height:0.799999999999983px;background:#777;"></div>
<svg class="b" style="left:19px;top:143px;" width="74" height="63" viewBox="0 0 74 63">
<rect x="24.8" y="44" width="13.2" height="12.5" fill="#dedce0"/>
<rect x="24.8" y="44" width="13.2" height="3.5" fill="#b9b5bd"/>
<rect x="11" y="55.7" width="40.3" height="5.4" rx="2.4" fill="#a29ea6"/>
<rect x="0.5" y="1.5" width="62.5" height="43.8" rx="4.5" fill="#9f9aa6"/>
<rect x="3" y="4.4" width="57.4" height="33" rx="1.5" fill="#fff"/>
<rect x="3" y="37.3" width="57.4" height="5" fill="#e9e5ec"/>
<path d="M8 10.4 a2.2 2.2 0 0 1 2.2 -2.2 h17.8 a2.2 2.2 0 0 1 2.2 2.2 V17 H8 Z" fill="#f0572b"/>
<rect x="8" y="17" width="21.4" height="17" fill="#ececec"/>
<rect x="8" y="34" width="21.4" height="3" fill="#d9d6dc"/>
<g fill="#9a979d"><circle cx="13.5" cy="22" r="0.9"/><circle cx="19" cy="22" r="0.9"/><circle cx="24.5" cy="22" r="0.9"/><circle cx="13.5" cy="27" r="0.9"/><circle cx="19" cy="27" r="0.9"/><circle cx="24.5" cy="27" r="0.9"/><circle cx="13.5" cy="31.6" r="0.9"/><circle cx="19" cy="31.6" r="0.9"/><circle cx="24.5" cy="31.6" r="0.9"/></g>
<path d="M13 12.6 l-2 0 M24.5 12.6 l2 0" stroke="#ffd9a8" stroke-width="1.2"/>
<rect x="36" y="9" width="1.6" height="10" fill="#cfccd2"/>
<rect x="37.6" y="15.2" width="17" height="1.2" fill="#cfccd2"/>
<rect x="41.6" y="11.6" width="12.8" height="4.2" fill="#3f9bdc"/>
<rect x="36" y="22.6" width="18.4" height="1.3" fill="#c9c6cc"/><rect x="36" y="27" width="10.6" height="1.3" fill="#c9c6cc"/><rect x="36" y="31" width="8" height="1.3" fill="#c9c6cc"/><rect x="36" y="35" width="8" height="1.3" fill="#c9c6cc"/>
<circle cx="56.8" cy="38.5" r="9.9" fill="#1fce8e"/>
<path d="M52.2 38.9 L55.6 41.6 L61 36.2" fill="none" stroke="#fff" stroke-width="1.7" stroke-linecap="round" stroke-linejoin="round"/>
</svg>
<div class="b " style="left:135px;top:148px;width:96.5px;height:19px;background:#70f6c6;border-radius:3.5px;border:1px solid #a8fbdc;"></div>
<span class="t" style="left:150.00px;top:150.70px;font-size:8.63px;line-height:14px;color:#1c3a2e;font-weight:700;-webkit-text-stroke:0.25px currentColor;transform:scaleX(0.8850);transform-origin:0 50%;">FLUXO DE CAIXA</span>
<div class="b " style="left:247px;top:147.5px;width:98.5px;height:19.5px;border-radius:3.5px;border:1px solid #d6d6d6;"></div>
<span class="t" style="left:273.00px;top:150.70px;font-size:8.65px;line-height:14px;color:#fff;font-weight:700;-webkit-text-stroke:0.25px currentColor;transform:scaleX(0.8850);transform-origin:0 50%;">CONSULTAS</span>
<div class="b " style="left:361px;top:147.5px;width:98.5px;height:19.5px;border-radius:3.5px;border:1px solid #d6d6d6;"></div>
<span class="t" style="left:391.50px;top:150.70px;font-size:8.58px;line-height:14px;color:#fff;font-weight:700;-webkit-text-stroke:0.25px currentColor;transform:scaleX(0.8850);transform-origin:0 50%;">ESTOQUE</span>
<div class="b " style="left:471px;top:147.5px;width:98px;height:19.5px;border-radius:3.5px;border:1px solid #d6d6d6;"></div>
<span class="t" style="left:0;top:0">
<span class="t" style="left:478.50px;top:150.70px;font-size:8.70px;line-height:14px;color:#fff;font-weight:700;-webkit-text-stroke:0.25px currentColor;transform:scaleX(0.8485);transform-origin:0 50%;">ANÁLISE </span>
<span class="t" style="left:514.00px;top:150.70px;font-size:8.70px;line-height:14px;color:#fff;font-weight:700;-webkit-text-stroke:0.25px currentColor;transform:scaleX(0.9240);transform-origin:0 50%;">INDIVIDUAL</span>
</span>
<div class="b " style="left:19px;top:335px;width:95.5px;height:33.5px;background:#79f8c9;"></div>
<span class="t" style="left:25.00px;top:232.00px;font-size:8.38px;line-height:14px;color:#fff;font-weight:700;-webkit-text-stroke:0.25px currentColor;transform:scaleX(0.8850);transform-origin:0 50%;">CADASTRO</span>
<span class="t" style="left:25.00px;top:269.50px;font-size:8.46px;line-height:14px;color:#fff;font-weight:700;-webkit-text-stroke:0.25px currentColor;transform:scaleX(0.8850);transform-origin:0 50%;">CONTROLE</span>
<span class="t" style="left:25.00px;top:306.50px;font-size:8.74px;line-height:14px;color:#fff;font-weight:700;-webkit-text-stroke:0.25px currentColor;transform:scaleX(0.8850);transform-origin:0 50%;">AGENDA</span>
<span class="t" style="left:25.00px;top:345.50px;font-size:8.37px;line-height:14px;color:#24402f;font-weight:700;-webkit-text-stroke:0.25px currentColor;transform:scaleX(0.8850);transform-origin:0 50%;">RELATÓRIOS</span>
<span class="t" style="left:25.00px;top:383.50px;font-size:8.51px;line-height:14px;color:#fff;font-weight:700;-webkit-text-stroke:0.25px currentColor;transform:scaleX(0.8850);transform-origin:0 50%;">DASHBOARDS</span>
<span class="t" style="left:25.00px;top:422.50px;font-size:8.45px;line-height:14px;color:#fff;font-weight:700;-webkit-text-stroke:0.25px currentColor;transform:scaleX(0.8850);transform-origin:0 50%;">INSTRUÇÕES</span>
<div class="b " style="left:122px;top:189px;width:74.5px;height:19px;background:#595959;"></div>
<span class="t" style="left:130.50px;top:192.00px;font-size:8.70px;line-height:14px;color:#fff;font-weight:700;-webkit-text-stroke:0.25px currentColor;transform:scaleX(0.8850);transform-origin:0 50%;">Fluxo de Caixa</span>
<div class="b " style="left:198.5px;top:189px;width:59.5px;height:19px;background:#595959;"></div>
<span class="t" style="left:207.00px;top:192.00px;font-size:8.70px;line-height:14px;color:#fff;font-weight:700;-webkit-text-stroke:0.25px currentColor;transform:scaleX(0.8850);transform-origin:0 50%;">Janeiro</span>
<div class="b " style="left:260.0px;top:189px;width:59.5px;height:19px;background:#595959;"></div>
<span class="t" style="left:268.50px;top:192.00px;font-size:8.70px;line-height:14px;color:#fff;font-weight:700;-webkit-text-stroke:0.25px currentColor;transform:scaleX(0.8850);transform-origin:0 50%;">Fevereiro</span>
<div class="b " style="left:321.5px;top:189px;width:59.5px;height:19px;background:#595959;"></div>
<span class="t" style="left:330.00px;top:192.00px;font-size:8.70px;line-height:14px;color:#fff;font-weight:700;-webkit-text-stroke:0.25px currentColor;transform:scaleX(0.8850);transform-origin:0 50%;">Março</span>
<div class="b " style="left:383.0px;top:189px;width:59.5px;height:19px;background:#595959;"></div>
<span class="t" style="left:391.50px;top:192.00px;font-size:8.70px;line-height:14px;color:#fff;font-weight:700;-webkit-text-stroke:0.25px currentColor;transform:scaleX(0.8850);transform-origin:0 50%;">Abril</span>
<div class="b " style="left:444.5px;top:189px;width:59.5px;height:19px;background:#595959;"></div>
<span class="t" style="left:453.00px;top:192.00px;font-size:8.70px;line-height:14px;color:#fff;font-weight:700;-webkit-text-stroke:0.25px currentColor;transform:scaleX(0.8850);transform-origin:0 50%;">Maio</span>
<div class="b " style="left:506.0px;top:189px;width:59.5px;height:19px;background:#595959;"></div>
<span class="t" style="left:514.50px;top:192.00px;font-size:8.70px;line-height:14px;color:#fff;font-weight:700;-webkit-text-stroke:0.25px currentColor;transform:scaleX(0.8850);transform-origin:0 50%;">Junho</span>
<div class="b " style="left:567.5px;top:189px;width:59.5px;height:19px;background:#595959;"></div>
<span class="t" style="left:576.00px;top:192.00px;font-size:8.70px;line-height:14px;color:#fff;font-weight:700;-webkit-text-stroke:0.25px currentColor;transform:scaleX(0.8850);transform-origin:0 50%;">Julho</span>
<div class="b " style="left:629.0px;top:189px;width:59.5px;height:19px;background:#595959;"></div>
<span class="t" style="left:637.50px;top:192.00px;font-size:8.70px;line-height:14px;color:#fff;font-weight:700;-webkit-text-stroke:0.25px currentColor;transform:scaleX(0.8850);transform-origin:0 50%;">Agosto</span>
<div class="b " style="left:690.5px;top:189px;width:59.5px;height:19px;background:#595959;"></div>
<span class="t" style="left:699.00px;top:192.00px;font-size:8.70px;line-height:14px;color:#fff;font-weight:700;-webkit-text-stroke:0.25px currentColor;transform:scaleX(0.8850);transform-origin:0 50%;">Setembro</span>
<div class="b " style="left:752.0px;top:189px;width:59.5px;height:19px;background:#595959;"></div>
<span class="t" style="left:760.50px;top:192.00px;font-size:8.70px;line-height:14px;color:#fff;font-weight:700;-webkit-text-stroke:0.25px currentColor;transform:scaleX(0.8850);transform-origin:0 50%;">Outubro</span>
<div class="b " style="left:813.5px;top:189px;width:59.5px;height:19px;background:#595959;"></div>
<span class="t" style="left:822.00px;top:192.00px;font-size:8.70px;line-height:14px;color:#fff;font-weight:700;-webkit-text-stroke:0.25px currentColor;transform:scaleX(0.8850);transform-origin:0 50%;">Novembro</span>
<div class="b " style="left:875.0px;top:189px;width:59.5px;height:19px;background:#595959;"></div>
<span class="t" style="left:883.50px;top:192.00px;font-size:8.70px;line-height:14px;color:#fff;font-weight:700;-webkit-text-stroke:0.25px currentColor;transform:scaleX(0.8850);transform-origin:0 50%;">Dezembro</span>
<div class="b " style="left:936.5px;top:189px;width:56.0px;height:19px;background:#595959;"></div>
<span class="t" style="left:945.00px;top:192.00px;font-size:8.70px;line-height:14px;color:#fff;font-weight:700;-webkit-text-stroke:0.25px currentColor;transform:scaleX(0.8850);transform-origin:0 50%;">Total</span>
<div class="b " style="left:122px;top:210px;width:74.5px;height:18.5px;background:#595959;"></div>
<span class="t" style="left:130.50px;top:212.50px;font-size:8.70px;line-height:14px;color:#fff;font-weight:700;-webkit-text-stroke:0.25px currentColor;transform:scaleX(0.8850);transform-origin:0 50%;">Saldo Inicial</span>
<div class="b " style="left:122px;top:231px;width:74.5px;height:18.5px;background:#595959;"></div>
<span class="t" style="left:130.50px;top:233.50px;font-size:8.70px;line-height:14px;color:#fff;font-weight:700;-webkit-text-stroke:0.25px currentColor;transform:scaleX(0.8850);transform-origin:0 50%;">Receitas</span>
<div class="b " style="left:122px;top:252px;width:74.5px;height:18.5px;background:#595959;"></div>
<span class="t" style="left:130.50px;top:254.50px;font-size:8.70px;line-height:14px;color:#fff;font-weight:700;-webkit-text-stroke:0.25px currentColor;transform:scaleX(0.8850);transform-origin:0 50%;">Despesas</span>
<div class="b " style="left:122px;top:273px;width:74.5px;height:18.5px;background:#595959;"></div>
<span class="t" style="left:130.50px;top:275.50px;font-size:8.70px;line-height:14px;color:#fff;font-weight:700;-webkit-text-stroke:0.25px currentColor;transform:scaleX(0.8850);transform-origin:0 50%;">Resultado</span>
<div class="b " style="left:122px;top:294px;width:74.5px;height:19.5px;background:#595959;"></div>
<span class="t" style="left:130.50px;top:296.70px;font-size:8.70px;line-height:14px;color:#fff;font-weight:700;-webkit-text-stroke:0.25px currentColor;transform:scaleX(0.8850);transform-origin:0 50%;">Acumulado</span>
<div class="b " style="left:197.5px;top:209px;width:61.5px;height:20.5px;background:#fff;border-right:1px solid #dfdfdf;border-bottom:1px solid #f9f9f9;"></div>
<div class="b " style="left:259.0px;top:209px;width:61.5px;height:20.5px;background:#efefef;border-right:1px solid #dfdfdf;border-bottom:1px solid #f9f9f9;"></div>
<span class="t" style="left:268.50px;top:212.50px;font-size:7.50px;line-height:14px;color:#202020;-webkit-text-stroke:0.24px currentColor;">R$ 3.049</span>
<div class="b " style="left:320.5px;top:209px;width:61.5px;height:20.5px;background:#efefef;border-right:1px solid #dfdfdf;border-bottom:1px solid #f9f9f9;"></div>
<span class="t" style="left:330.00px;top:212.50px;font-size:7.50px;line-height:14px;color:#202020;-webkit-text-stroke:0.24px currentColor;">R$ 5.034</span>
<div class="b " style="left:382.0px;top:209px;width:61.5px;height:20.5px;background:#efefef;border-right:1px solid #dfdfdf;border-bottom:1px solid #f9f9f9;"></div>
<span class="t" style="left:391.50px;top:212.50px;font-size:7.50px;line-height:14px;color:#202020;-webkit-text-stroke:0.24px currentColor;">R$ 7.204</span>
<div class="b " style="left:443.5px;top:209px;width:61.5px;height:20.5px;background:#efefef;border-right:1px solid #dfdfdf;border-bottom:1px solid #f9f9f9;"></div>
<span class="t" style="left:453.00px;top:212.50px;font-size:7.50px;line-height:14px;color:#202020;-webkit-text-stroke:0.24px currentColor;">R$ 9.541</span>
<div class="b " style="left:505.0px;top:209px;width:61.5px;height:20.5px;background:#efefef;border-right:1px solid #dfdfdf;border-bottom:1px solid #f9f9f9;"></div>
<span class="t" style="left:514.50px;top:212.50px;font-size:7.50px;line-height:14px;color:#202020;-webkit-text-stroke:0.24px currentColor;">R$ 9.607</span>
<div class="b " style="left:566.5px;top:209px;width:61.5px;height:20.5px;background:#efefef;border-right:1px solid #dfdfdf;border-bottom:1px solid #f9f9f9;"></div>
<span class="t" style="left:576.00px;top:212.50px;font-size:7.50px;line-height:14px;color:#202020;-webkit-text-stroke:0.24px currentColor;">R$ 8.457</span>
<div class="b " style="left:628.0px;top:209px;width:61.5px;height:20.5px;background:#efefef;border-right:1px solid #dfdfdf;border-bottom:1px solid #f9f9f9;"></div>
<span class="t" style="left:637.50px;top:212.50px;font-size:7.50px;line-height:14px;color:#202020;-webkit-text-stroke:0.24px currentColor;">R$ 7.307</span>
<div class="b " style="left:689.5px;top:209px;width:61.5px;height:20.5px;background:#efefef;border-right:1px solid #dfdfdf;border-bottom:1px solid #f9f9f9;"></div>
<span class="t" style="left:699.00px;top:212.50px;font-size:7.50px;line-height:14px;color:#202020;-webkit-text-stroke:0.24px currentColor;">R$ 6.157</span>
<div class="b " style="left:751.0px;top:209px;width:61.5px;height:20.5px;background:#efefef;border-right:1px solid #dfdfdf;border-bottom:1px solid #f9f9f9;"></div>
<span class="t" style="left:760.50px;top:212.50px;font-size:7.50px;line-height:14px;color:#202020;-webkit-text-stroke:0.24px currentColor;">R$ 6.157</span>
<div class="b " style="left:812.5px;top:209px;width:61.5px;height:20.5px;background:#efefef;border-right:1px solid #dfdfdf;border-bottom:1px solid #f9f9f9;"></div>
<span class="t" style="left:822.00px;top:212.50px;font-size:7.50px;line-height:14px;color:#202020;-webkit-text-stroke:0.24px currentColor;">R$ 6.157</span>
<div class="b " style="left:874.0px;top:209px;width:61.5px;height:20.5px;background:#efefef;border-right:1px solid #dfdfdf;border-bottom:1px solid #f9f9f9;"></div>
<span class="t" style="left:883.50px;top:212.50px;font-size:7.50px;line-height:14px;color:#202020;-webkit-text-stroke:0.24px currentColor;">R$ 6.157</span>
<div class="b " style="left:935.5px;top:209px;width:58.0px;height:20.5px;background:#595959;border-bottom:1px solid #8a8a8a;"></div>
<span class="t" style="left:945.00px;top:212.50px;font-size:7.50px;line-height:14px;color:#ececec;">R$ 0</span>
<div class="b " style="left:197.5px;top:229.5px;width:61.5px;height:21.0px;background:#efefef;border-right:1px solid #dfdfdf;border-bottom:1px solid #f9f9f9;"></div>
<span class="t" style="left:207.00px;top:233.50px;font-size:7.50px;line-height:14px;color:#202020;-webkit-text-stroke:0.24px currentColor;">R$ 4.199</span>
<div class="b " style="left:259.0px;top:229.5px;width:61.5px;height:21.0px;background:#efefef;border-right:1px solid #dfdfdf;border-bottom:1px solid #f9f9f9;"></div>
<span class="t" style="left:268.50px;top:233.50px;font-size:7.50px;line-height:14px;color:#202020;-webkit-text-stroke:0.24px currentColor;">R$ 3.135</span>
<div class="b " style="left:320.5px;top:229.5px;width:61.5px;height:21.0px;background:#efefef;border-right:1px solid #dfdfdf;border-bottom:1px solid #f9f9f9;"></div>
<span class="t" style="left:330.00px;top:233.50px;font-size:7.50px;line-height:14px;color:#202020;-webkit-text-stroke:0.24px currentColor;">R$ 3.320</span>
<div class="b " style="left:382.0px;top:229.5px;width:61.5px;height:21.0px;background:#efefef;border-right:1px solid #dfdfdf;border-bottom:1px solid #f9f9f9;"></div>
<span class="t" style="left:391.50px;top:233.50px;font-size:7.50px;line-height:14px;color:#202020;-webkit-text-stroke:0.24px currentColor;">R$ 3.487</span>
<div class="b " style="left:443.5px;top:229.5px;width:61.5px;height:21.0px;background:#efefef;border-right:1px solid #dfdfdf;border-bottom:1px solid #f9f9f9;"></div>
<span class="t" style="left:453.00px;top:233.50px;font-size:7.50px;line-height:14px;color:#202020;-webkit-text-stroke:0.24px currentColor;">R$ 1.216</span>
<div class="b " style="left:505.0px;top:229.5px;width:61.5px;height:21.0px;background:#efefef;border-right:1px solid #dfdfdf;border-bottom:1px solid #f9f9f9;"></div>
<span class="t" style="left:514.50px;top:233.50px;font-size:7.50px;line-height:14px;color:#202020;-webkit-text-stroke:0.24px currentColor;">R$ 0</span>
<div class="b " style="left:566.5px;top:229.5px;width:61.5px;height:21.0px;background:#efefef;border-right:1px solid #dfdfdf;border-bottom:1px solid #f9f9f9;"></div>
<span class="t" style="left:576.00px;top:233.50px;font-size:7.50px;line-height:14px;color:#202020;-webkit-text-stroke:0.24px currentColor;">R$ 0</span>
<div class="b " style="left:628.0px;top:229.5px;width:61.5px;height:21.0px;background:#efefef;border-right:1px solid #dfdfdf;border-bottom:1px solid #f9f9f9;"></div>
<span class="t" style="left:637.50px;top:233.50px;font-size:7.50px;line-height:14px;color:#202020;-webkit-text-stroke:0.24px currentColor;">R$ 0</span>
<div class="b " style="left:689.5px;top:229.5px;width:61.5px;height:21.0px;background:#efefef;border-right:1px solid #dfdfdf;border-bottom:1px solid #f9f9f9;"></div>
<span class="t" style="left:699.00px;top:233.50px;font-size:7.50px;line-height:14px;color:#202020;-webkit-text-stroke:0.24px currentColor;">R$ 0</span>
<div class="b " style="left:751.0px;top:229.5px;width:61.5px;height:21.0px;background:#efefef;border-right:1px solid #dfdfdf;border-bottom:1px solid #f9f9f9;"></div>
<span class="t" style="left:760.50px;top:233.50px;font-size:7.50px;line-height:14px;color:#202020;-webkit-text-stroke:0.24px currentColor;">R$ 0</span>
<div class="b " style="left:812.5px;top:229.5px;width:61.5px;height:21.0px;background:#efefef;border-right:1px solid #dfdfdf;border-bottom:1px solid #f9f9f9;"></div>
<span class="t" style="left:822.00px;top:233.50px;font-size:7.50px;line-height:14px;color:#202020;-webkit-text-stroke:0.24px currentColor;">R$ 0</span>
<div class="b " style="left:874.0px;top:229.5px;width:61.5px;height:21.0px;background:#efefef;border-right:1px solid #dfdfdf;border-bottom:1px solid #f9f9f9;"></div>
<span class="t" style="left:883.50px;top:233.50px;font-size:7.50px;line-height:14px;color:#202020;-webkit-text-stroke:0.24px currentColor;">R$ 0</span>
<div class="b " style="left:935.5px;top:229.5px;width:58.0px;height:21.0px;background:#595959;border-bottom:1px solid #8a8a8a;"></div>
<span class="t" style="left:945.00px;top:233.50px;font-size:7.50px;line-height:14px;color:#ececec;">R$ 15.357</span>
<div class="b " style="left:197.5px;top:250.5px;width:61.5px;height:21.0px;background:#efefef;border-right:1px solid #dfdfdf;border-bottom:1px solid #f9f9f9;"></div>
<span class="t" style="left:207.00px;top:254.50px;font-size:7.50px;line-height:14px;color:#202020;-webkit-text-stroke:0.24px currentColor;">R$ 1.150</span>
<div class="b " style="left:259.0px;top:250.5px;width:61.5px;height:21.0px;background:#efefef;border-right:1px solid #dfdfdf;border-bottom:1px solid #f9f9f9;"></div>
<span class="t" style="left:268.50px;top:254.50px;font-size:7.50px;line-height:14px;color:#202020;-webkit-text-stroke:0.24px currentColor;">R$ 1.150</span>
<div class="b " style="left:320.5px;top:250.5px;width:61.5px;height:21.0px;background:#efefef;border-right:1px solid #dfdfdf;border-bottom:1px solid #f9f9f9;"></div>
<span class="t" style="left:330.00px;top:254.50px;font-size:7.50px;line-height:14px;color:#202020;-webkit-text-stroke:0.24px currentColor;">R$ 1.150</span>
<div class="b " style="left:382.0px;top:250.5px;width:61.5px;height:21.0px;background:#efefef;border-right:1px solid #dfdfdf;border-bottom:1px solid #f9f9f9;"></div>
<span class="t" style="left:391.50px;top:254.50px;font-size:7.50px;line-height:14px;color:#202020;-webkit-text-stroke:0.24px currentColor;">R$ 1.150</span>
<div class="b " style="left:443.5px;top:250.5px;width:61.5px;height:21.0px;background:#efefef;border-right:1px solid #dfdfdf;border-bottom:1px solid #f9f9f9;"></div>
<span class="t" style="left:453.00px;top:254.50px;font-size:7.50px;line-height:14px;color:#202020;-webkit-text-stroke:0.24px currentColor;">R$ 1.150</span>
<div class="b " style="left:505.0px;top:250.5px;width:61.5px;height:21.0px;background:#efefef;border-right:1px solid #dfdfdf;border-bottom:1px solid #f9f9f9;"></div>
<span class="t" style="left:514.50px;top:254.50px;font-size:7.50px;line-height:14px;color:#202020;-webkit-text-stroke:0.24px currentColor;">R$ 1.150</span>
<div class="b " style="left:566.5px;top:250.5px;width:61.5px;height:21.0px;background:#efefef;border-right:1px solid #dfdfdf;border-bottom:1px solid #f9f9f9;"></div>
<span class="t" style="left:576.00px;top:254.50px;font-size:7.50px;line-height:14px;color:#202020;-webkit-text-stroke:0.24px currentColor;">R$ 1.150</span>
<div class="b " style="left:628.0px;top:250.5px;width:61.5px;height:21.0px;background:#efefef;border-right:1px solid #dfdfdf;border-bottom:1px solid #f9f9f9;"></div>
<span class="t" style="left:637.50px;top:254.50px;font-size:7.50px;line-height:14px;color:#202020;-webkit-text-stroke:0.24px currentColor;">R$ 1.150</span>
<div class="b " style="left:689.5px;top:250.5px;width:61.5px;height:21.0px;background:#efefef;border-right:1px solid #dfdfdf;border-bottom:1px solid #f9f9f9;"></div>
<span class="t" style="left:699.00px;top:254.50px;font-size:7.50px;line-height:14px;color:#202020;-webkit-text-stroke:0.24px currentColor;">R$ 0</span>
<div class="b " style="left:751.0px;top:250.5px;width:61.5px;height:21.0px;background:#efefef;border-right:1px solid #dfdfdf;border-bottom:1px solid #f9f9f9;"></div>
<span class="t" style="left:760.50px;top:254.50px;font-size:7.50px;line-height:14px;color:#202020;-webkit-text-stroke:0.24px currentColor;">R$ 0</span>
<div class="b " style="left:812.5px;top:250.5px;width:61.5px;height:21.0px;background:#efefef;border-right:1px solid #dfdfdf;border-bottom:1px solid #f9f9f9;"></div>
<span class="t" style="left:822.00px;top:254.50px;font-size:7.50px;line-height:14px;color:#202020;-webkit-text-stroke:0.24px currentColor;">R$ 0</span>
<div class="b " style="left:874.0px;top:250.5px;width:61.5px;height:21.0px;background:#efefef;border-right:1px solid #dfdfdf;border-bottom:1px solid #f9f9f9;"></div>
<span class="t" style="left:883.50px;top:254.50px;font-size:7.50px;line-height:14px;color:#202020;-webkit-text-stroke:0.24px currentColor;">R$ 0</span>
<div class="b " style="left:935.5px;top:250.5px;width:58.0px;height:21.0px;background:#595959;border-bottom:1px solid #8a8a8a;"></div>
<span class="t" style="left:945.00px;top:254.50px;font-size:7.50px;line-height:14px;color:#ececec;">R$ 9.200</span>
<div class="b " style="left:197.5px;top:271.5px;width:61.5px;height:21.0px;background:#375623;border-right:1px solid #8fa482;border-bottom:1px solid #8fa482;"></div>
<span class="t" style="left:207.00px;top:275.50px;font-size:7.50px;line-height:14px;color:#eef3ea;-webkit-text-stroke:0.24px currentColor;">R$ 3.049</span>
<div class="b " style="left:259.0px;top:271.5px;width:61.5px;height:21.0px;background:#375623;border-right:1px solid #8fa482;border-bottom:1px solid #8fa482;"></div>
<span class="t" style="left:268.50px;top:275.50px;font-size:7.50px;line-height:14px;color:#eef3ea;-webkit-text-stroke:0.24px currentColor;">R$ 1.985</span>
<div class="b " style="left:320.5px;top:271.5px;width:61.5px;height:21.0px;background:#375623;border-right:1px solid #8fa482;border-bottom:1px solid #8fa482;"></div>
<span class="t" style="left:330.00px;top:275.50px;font-size:7.50px;line-height:14px;color:#eef3ea;-webkit-text-stroke:0.24px currentColor;">R$ 2.170</span>
<div class="b " style="left:382.0px;top:271.5px;width:61.5px;height:21.0px;background:#375623;border-right:1px solid #8fa482;border-bottom:1px solid #8fa482;"></div>
<span class="t" style="left:391.50px;top:275.50px;font-size:7.50px;line-height:14px;color:#eef3ea;-webkit-text-stroke:0.24px currentColor;">R$ 2.337</span>
<div class="b " style="left:443.5px;top:271.5px;width:61.5px;height:21.0px;background:#375623;border-right:1px solid #8fa482;border-bottom:1px solid #8fa482;"></div>
<span class="t" style="left:453.00px;top:275.50px;font-size:7.50px;line-height:14px;color:#eef3ea;-webkit-text-stroke:0.24px currentColor;">R$ 66</span>
<div class="b " style="left:505.0px;top:271.5px;width:61.5px;height:21.0px;background:#c00000;border-right:1px solid #e29a9a;border-bottom:1px solid #e29a9a;"></div>
<span class="t" style="left:513.50px;top:275.50px;font-size:7.50px;line-height:14px;color:#ffe9e9;-webkit-text-stroke:0.24px currentColor;">-R$ 1.150</span>
<div class="b " style="left:566.5px;top:271.5px;width:61.5px;height:21.0px;background:#c00000;border-right:1px solid #e29a9a;border-bottom:1px solid #e29a9a;"></div>
<span class="t" style="left:575.00px;top:275.50px;font-size:7.50px;line-height:14px;color:#ffe9e9;-webkit-text-stroke:0.24px currentColor;">-R$ 1.150</span>
<div class="b " style="left:628.0px;top:271.5px;width:61.5px;height:21.0px;background:#c00000;border-right:1px solid #e29a9a;border-bottom:1px solid #e29a9a;"></div>
<span class="t" style="left:636.50px;top:275.50px;font-size:7.50px;line-height:14px;color:#ffe9e9;-webkit-text-stroke:0.24px currentColor;">-R$ 1.150</span>
<div class="b " style="left:689.5px;top:271.5px;width:61.5px;height:21.0px;background:#f5b90b;border-right:1px solid #fbe29a;border-bottom:1px solid #fbe29a;"></div>
<span class="t" style="left:699.00px;top:275.50px;font-size:7.50px;line-height:14px;color:#3a3000;-webkit-text-stroke:0.24px currentColor;">R$ 0</span>
<div class="b " style="left:751.0px;top:271.5px;width:61.5px;height:21.0px;background:#f5b90b;border-right:1px solid #fbe29a;border-bottom:1px solid #fbe29a;"></div>
<span class="t" style="left:760.50px;top:275.50px;font-size:7.50px;line-height:14px;color:#3a3000;-webkit-text-stroke:0.24px currentColor;">R$ 0</span>
<div class="b " style="left:812.5px;top:271.5px;width:61.5px;height:21.0px;background:#f5b90b;border-right:1px solid #fbe29a;border-bottom:1px solid #fbe29a;"></div>
<span class="t" style="left:822.00px;top:275.50px;font-size:7.50px;line-height:14px;color:#3a3000;-webkit-text-stroke:0.24px currentColor;">R$ 0</span>
<div class="b " style="left:874.0px;top:271.5px;width:61.5px;height:21.0px;background:#f5b90b;border-right:1px solid #fbe29a;border-bottom:1px solid #fbe29a;"></div>
<span class="t" style="left:883.50px;top:275.50px;font-size:7.50px;line-height:14px;color:#3a3000;-webkit-text-stroke:0.24px currentColor;">R$ 0</span>
<div class="b " style="left:935.5px;top:271.5px;width:58.0px;height:21.0px;background:#375623;border-bottom:1px solid #6d8a5c;"></div>
<span class="t" style="left:945.00px;top:275.50px;font-size:7.50px;line-height:14px;color:#eef3ea;">R$ 6.157</span>
<div class="b " style="left:197.5px;top:292.5px;width:61.5px;height:21.0px;background:#375623;border-right:1px solid #8fa482;border-bottom:1px solid #8fa482;"></div>
<span class="t" style="left:207.00px;top:296.70px;font-size:7.50px;line-height:14px;color:#eef3ea;-webkit-text-stroke:0.24px currentColor;">R$ 3.049</span>
<div class="b " style="left:259.0px;top:292.5px;width:61.5px;height:21.0px;background:#375623;border-right:1px solid #8fa482;border-bottom:1px solid #8fa482;"></div>
<span class="t" style="left:268.50px;top:296.70px;font-size:7.50px;line-height:14px;color:#eef3ea;-webkit-text-stroke:0.24px currentColor;">R$ 5.034</span>
<div class="b " style="left:320.5px;top:292.5px;width:61.5px;height:21.0px;background:#375623;border-right:1px solid #8fa482;border-bottom:1px solid #8fa482;"></div>
<span class="t" style="left:330.00px;top:296.70px;font-size:7.50px;line-height:14px;color:#eef3ea;-webkit-text-stroke:0.24px currentColor;">R$ 7.204</span>
<div class="b " style="left:382.0px;top:292.5px;width:61.5px;height:21.0px;background:#375623;border-right:1px solid #8fa482;border-bottom:1px solid #8fa482;"></div>
<span class="t" style="left:391.50px;top:296.70px;font-size:7.50px;line-height:14px;color:#eef3ea;-webkit-text-stroke:0.24px currentColor;">R$ 9.541</span>
<div class="b " style="left:443.5px;top:292.5px;width:61.5px;height:21.0px;background:#375623;border-right:1px solid #8fa482;border-bottom:1px solid #8fa482;"></div>
<span class="t" style="left:453.00px;top:296.70px;font-size:7.50px;line-height:14px;color:#eef3ea;-webkit-text-stroke:0.24px currentColor;">R$ 9.607</span>
<div class="b " style="left:505.0px;top:292.5px;width:61.5px;height:21.0px;background:#375623;border-right:1px solid #8fa482;border-bottom:1px solid #8fa482;"></div>
<span class="t" style="left:514.50px;top:296.70px;font-size:7.50px;line-height:14px;color:#eef3ea;-webkit-text-stroke:0.24px currentColor;">R$ 8.457</span>
<div class="b " style="left:566.5px;top:292.5px;width:61.5px;height:21.0px;background:#375623;border-right:1px solid #8fa482;border-bottom:1px solid #8fa482;"></div>
<span class="t" style="left:576.00px;top:296.70px;font-size:7.50px;line-height:14px;color:#eef3ea;-webkit-text-stroke:0.24px currentColor;">R$ 7.307</span>
<div class="b " style="left:628.0px;top:292.5px;width:61.5px;height:21.0px;background:#375623;border-right:1px solid #8fa482;border-bottom:1px solid #8fa482;"></div>
<span class="t" style="left:637.50px;top:296.70px;font-size:7.50px;line-height:14px;color:#eef3ea;-webkit-text-stroke:0.24px currentColor;">R$ 6.157</span>
<div class="b " style="left:689.5px;top:292.5px;width:61.5px;height:21.0px;background:#375623;border-right:1px solid #8fa482;border-bottom:1px solid #8fa482;"></div>
<span class="t" style="left:699.00px;top:296.70px;font-size:7.50px;line-height:14px;color:#eef3ea;-webkit-text-stroke:0.24px currentColor;">R$ 6.157</span>
<div class="b " style="left:751.0px;top:292.5px;width:61.5px;height:21.0px;background:#375623;border-right:1px solid #8fa482;border-bottom:1px solid #8fa482;"></div>
<span class="t" style="left:760.50px;top:296.70px;font-size:7.50px;line-height:14px;color:#eef3ea;-webkit-text-stroke:0.24px currentColor;">R$ 6.157</span>
<div class="b " style="left:812.5px;top:292.5px;width:61.5px;height:21.0px;background:#375623;border-right:1px solid #8fa482;border-bottom:1px solid #8fa482;"></div>
<span class="t" style="left:822.00px;top:296.70px;font-size:7.50px;line-height:14px;color:#eef3ea;-webkit-text-stroke:0.24px currentColor;">R$ 6.157</span>
<div class="b " style="left:874.0px;top:292.5px;width:61.5px;height:21.0px;background:#375623;border-right:1px solid #8fa482;border-bottom:1px solid #8fa482;"></div>
<span class="t" style="left:883.50px;top:296.70px;font-size:7.50px;line-height:14px;color:#eef3ea;-webkit-text-stroke:0.24px currentColor;">R$ 6.157</span>
<div class="b " style="left:935.5px;top:292.5px;width:58.0px;height:21.0px;background:#375623;border-bottom:1px solid #6d8a5c;"></div>
<span class="t" style="left:945.00px;top:296.70px;font-size:7.50px;line-height:14px;color:#eef3ea;">R$ 6.157</span>
<div class="b " style="left:1007.5px;top:126px;width:16.5px;height:338px;background:#efefef;"></div>
<svg class="b" style="left:1012px;top:130.5px;" width="8" height="6" viewBox="0 0 8 6"><path d="M4 0.8 L7.4 5.2 H0.6 Z" fill="#606060"/></svg>
<div class="b " style="left:1013px;top:140px;width:6px;height:13.5px;background:#606060;border-radius:3px;"></div>
<svg class="b" style="left:1012px;top:454px;" width="8" height="6" viewBox="0 0 8 6"><path d="M4 5.2 L7.4 0.8 H0.6 Z" fill="#606060"/></svg>
<div class="b " style="left:19px;top:462px;width:474px;height:2px;background:#e3e3e3;border-radius:2px 2px 0 0;"></div>
<div class="b " style="left:525.5px;top:462px;width:477.5px;height:2px;background:#e3e3e3;border-radius:2px 2px 0 0;"></div>
<svg class="b" style="left:121px;top:324px;" width="873" height="131" viewBox="0 0 873 131"><rect x="0.5" y="0.5" width="871" height="128.5" fill="#fff" stroke="#dfdfdf" stroke-width="1"/><rect x="9" y="88.0" width="790.5" height="1" fill="#d6d6d6"/><rect x="17.95" y="21.99" width="24" height="66.51" fill="#375623"/><rect x="41.95" y="70.28" width="24.5" height="18.22" fill="#c00000"/><rect x="83.85" y="38.84" width="24" height="49.66" fill="#375623"/><rect x="107.85" y="70.28" width="24.5" height="18.22" fill="#c00000"/><rect x="149.75" y="35.91" width="24" height="52.59" fill="#375623"/><rect x="173.75" y="70.28" width="24.5" height="18.22" fill="#c00000"/><rect x="215.65" y="33.27" width="24" height="55.23" fill="#375623"/><rect x="239.65" y="70.28" width="24.5" height="18.22" fill="#c00000"/><rect x="281.55" y="69.24" width="24" height="19.26" fill="#375623"/><rect x="305.55" y="70.28" width="24.5" height="18.22" fill="#c00000"/><rect x="371.45" y="70.28" width="24.5" height="18.22" fill="#c00000"/><rect x="437.35" y="70.28" width="24.5" height="18.22" fill="#c00000"/><rect x="503.25" y="70.28" width="24.5" height="18.22" fill="#c00000"/><path d="M41.95 40.20 C52.93 43.01 85.88 54.74 107.85 57.06 C129.82 59.38 151.78 55.06 173.75 54.13 C195.72 53.20 217.68 45.93 239.65 51.48 C261.62 57.04 283.58 78.25 305.55 87.45 C327.52 96.66 349.48 103.51 371.45 106.72 C393.42 109.93 415.38 106.72 437.35 106.72 C459.32 106.72 481.28 109.75 503.25 106.72 C525.22 103.68 547.18 91.54 569.15 88.50 C591.12 85.46 613.08 88.50 635.05 88.50 C657.02 88.50 678.98 88.50 700.95 88.50 C722.92 88.50 755.87 88.50 766.85 88.50" fill="none" stroke="#5f91c2" stroke-width="1.4" stroke-linecap="round"/><text x="41.95" y="32.90" font-size="6.5" fill="#353535" stroke="#353535" stroke-width="0.15" text-anchor="middle">R$ 3.049</text><text x="107.85" y="49.76" font-size="6.5" fill="#353535" stroke="#353535" stroke-width="0.15" text-anchor="middle">R$ 1.985</text><text x="173.75" y="46.83" font-size="6.5" fill="#353535" stroke="#353535" stroke-width="0.15" text-anchor="middle">R$ 2.170</text><text x="239.65" y="44.18" font-size="6.5" fill="#353535" stroke="#353535" stroke-width="0.15" text-anchor="middle">R$ 2.337</text><text x="305.55" y="80.15" font-size="6.5" fill="#353535" stroke="#353535" stroke-width="0.15" text-anchor="middle">R$ 66</text><text x="371.45" y="99.42" font-size="6.5" fill="#353535" stroke="#353535" stroke-width="0.15" text-anchor="middle">-R$ 1.150</text><text x="437.35" y="99.42" font-size="6.5" fill="#353535" stroke="#353535" stroke-width="0.15" text-anchor="middle">-R$ 1.150</text><text x="503.25" y="99.42" font-size="6.5" fill="#353535" stroke="#353535" stroke-width="0.15" text-anchor="middle">-R$ 1.150</text><text x="569.15" y="81.20" font-size="6.5" fill="#353535" stroke="#353535" stroke-width="0.15" text-anchor="middle">R$ 0</text><text x="635.05" y="81.20" font-size="6.5" fill="#353535" stroke="#353535" stroke-width="0.15" text-anchor="middle">R$ 0</text><text x="700.95" y="81.20" font-size="6.5" fill="#353535" stroke="#353535" stroke-width="0.15" text-anchor="middle">R$ 0</text><text x="766.85" y="81.20" font-size="6.5" fill="#353535" stroke="#353535" stroke-width="0.15" text-anchor="middle">R$ 0</text><text x="41.95" y="103.60" font-size="8.3" letter-spacing="0.22" fill="#595959" stroke="#595959" stroke-width="0.2" text-anchor="middle">Janeiro</text><text x="107.85" y="103.60" font-size="8.3" letter-spacing="0.22" fill="#595959" stroke="#595959" stroke-width="0.2" text-anchor="middle">Fevereiro</text><text x="173.75" y="103.60" font-size="8.3" letter-spacing="0.22" fill="#595959" stroke="#595959" stroke-width="0.2" text-anchor="middle">Março</text><text x="239.65" y="103.60" font-size="8.3" letter-spacing="0.22" fill="#595959" stroke="#595959" stroke-width="0.2" text-anchor="middle">Abril</text><text x="305.55" y="103.60" font-size="8.3" letter-spacing="0.22" fill="#595959" stroke="#595959" stroke-width="0.2" text-anchor="middle">Maio</text><text x="371.45" y="103.60" font-size="8.3" letter-spacing="0.22" fill="#595959" stroke="#595959" stroke-width="0.2" text-anchor="middle">Junho</text><text x="437.35" y="103.60" font-size="8.3" letter-spacing="0.22" fill="#595959" stroke="#595959" stroke-width="0.2" text-anchor="middle">Julho</text><text x="503.25" y="103.60" font-size="8.3" letter-spacing="0.22" fill="#595959" stroke="#595959" stroke-width="0.2" text-anchor="middle">Agosto</text><text x="569.15" y="103.60" font-size="8.3" letter-spacing="0.22" fill="#595959" stroke="#595959" stroke-width="0.2" text-anchor="middle">Setembro</text><text x="635.05" y="103.60" font-size="8.3" letter-spacing="0.22" fill="#595959" stroke="#595959" stroke-width="0.2" text-anchor="middle">Outubro</text><text x="700.95" y="103.60" font-size="8.3" letter-spacing="0.22" fill="#595959" stroke="#595959" stroke-width="0.2" text-anchor="middle">Novembro</text><text x="766.85" y="103.60" font-size="8.3" letter-spacing="0.22" fill="#595959" stroke="#595959" stroke-width="0.2" text-anchor="middle">Dezembro</text><rect x="814" y="48" width="15.5" height="4" fill="#375623"/><rect x="814" y="62.5" width="15.5" height="4" fill="#c00000"/><rect x="814" y="78" width="15.5" height="1.2" fill="#6193c4"/><text x="832" y="52.30000000000001" font-size="6.5" fill="#404040" stroke="#404040" stroke-width="0.15">Receitas</text><text x="832" y="67.30000000000001" font-size="6.5" fill="#404040" stroke="#404040" stroke-width="0.15">Despesas</text><text x="832" y="81.30000000000001" font-size="6.5" fill="#404040" stroke="#404040" stroke-width="0.15">Resultado</text></svg>
</div></body></html>
